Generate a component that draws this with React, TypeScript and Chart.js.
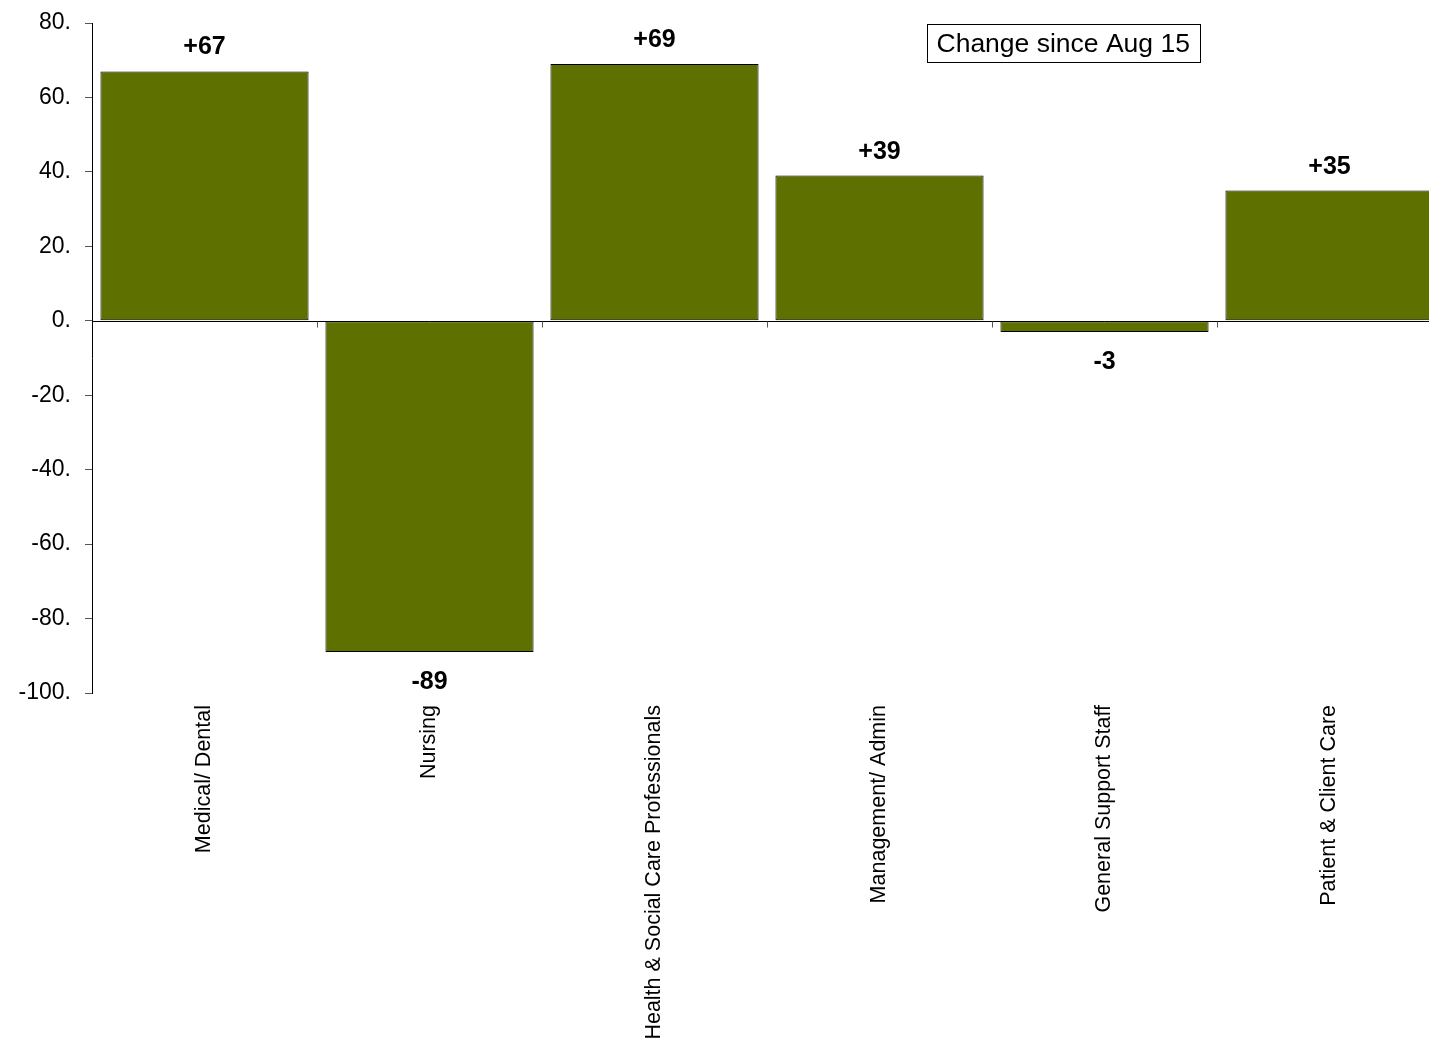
import React, { useEffect, useRef } from "react";
import { Chart, registerables } from "chart.js";

Chart.register(...registerables);

const categories = [
  "Medical/ Dental",
  "Nursing",
  "Health & Social Care Professionals",
  "Management/ Admin",
  "General Support Staff",
  "Patient & Client Care",
];
const changeValues = [67, -89, 69, 39, -3, 35];
const seriesLabel = "Change since Aug 15";
const yMin = -100;
const yMax = 80;
const yStep = 20;

const FONT = "'Liberation Sans', Arial, sans-serif";

const overlayPlugin = {
  id: "overlay",
  afterDatasetsDraw(chart: any) {
    const ctx = chart.ctx;
    const y = chart.scales.y;
    const area = chart.chartArea;
    const zeroY = Math.round(y.getPixelForValue(0)) + 0.5;
    ctx.save();
    ctx.strokeStyle = "#000";
    ctx.lineWidth = 1;
    ctx.beginPath();
    ctx.moveTo(area.left, zeroY);
    ctx.lineTo(area.right, zeroY);
    ctx.stroke();
    const n = categories.length;
    const w = (area.right - area.left) / n;
    ctx.strokeStyle = "#555";
    for (let i = 1; i < n; i++) {
      const px = Math.round(area.left + i * w) + 0.5;
      ctx.beginPath();
      ctx.moveTo(px, zeroY);
      ctx.lineTo(px, zeroY + 6);
      ctx.stroke();
    }
    const meta = chart.getDatasetMeta(0);
    ctx.fillStyle = "#000";
    ctx.font = `bold 25px ${FONT}`;
    ctx.textAlign = "center";
    ctx.textBaseline = "alphabetic";
    meta.data.forEach((bar: any, i: number) => {
      const v = changeValues[i];
      const txt = (v > 0 ? "+" : "") + v;
      const ty = v >= 0 ? bar.y - 17 : bar.y + 37;
      ctx.fillText(txt, bar.x, ty);
    });
    ctx.font = `26.5px ${FONT}`;
    const tw = ctx.measureText(seriesLabel).width;
    const bx = 927.5;
    const by = 24.5;
    const bw = Math.round(tw + 20);
    const bh = 38;
    ctx.fillStyle = "#fff";
    ctx.fillRect(bx, by, bw, bh);
    ctx.strokeStyle = "#000";
    ctx.strokeRect(bx, by, bw, bh);
    ctx.fillStyle = "#000";
    ctx.textAlign = "left";
    ctx.textBaseline = "middle";
    ctx.fillText(seriesLabel, bx + 9, by + bh / 2 + 1);
    ctx.restore();
  },
};

export default function App() {
  const ref = useRef<HTMLCanvasElement | null>(null);
  useEffect(() => {
    if (!ref.current) return;
    const chart = new Chart(ref.current, {
      type: "bar",
      data: {
        labels: categories,
        datasets: [
          {
            label: seriesLabel,
            data: changeValues,
            backgroundColor: "rgb(94,112,0)",
            borderColor: "#000",
            borderWidth: 1,
            borderSkipped: false,
            barPercentage: 0.925,
            categoryPercentage: 1,
          },
        ],
      },
      options: {
        animation: false,
        responsive: false,
        maintainAspectRatio: false,
        layout: { padding: { top: 23, left: 0, right: 0, bottom: 0 } },
        plugins: {
          legend: { display: false },
          tooltip: { enabled: false },
          title: { display: false },
        },
        scales: {
          x: {
            offset: true,
            grid: { display: false, drawTicks: false },
            border: { display: false },
            ticks: {
              autoSkip: false,
              minRotation: 90,
              maxRotation: 90,
              padding: 12,
              color: "#000",
              font: { family: FONT, size: 21.5 },
            },
            afterFit(scale: any) {
              scale.height = 353;
              scale.paddingLeft = 0;
              scale.paddingRight = 0;
            },
          },
          y: {
            min: yMin,
            max: yMax,
            border: { display: true, color: "#000", width: 1 },
            grid: {
              drawOnChartArea: false,
              drawTicks: true,
              tickLength: 7,
              color: "#555",
            },
            ticks: {
              stepSize: yStep,
              padding: 14,
              color: "#000",
              font: { family: FONT, size: 23 },
              callback: (v: any) => `${v}.`,
            },
            afterFit(scale: any) {
              scale.width = 92;
              scale.paddingTop = 0;
              scale.paddingBottom = 0;
            },
          },
        },
      },
      plugins: [overlayPlugin],
    });
    return () => chart.destroy();
  }, []);
  return (
    <div
      style={{
        position: "fixed",
        left: 0,
        top: 0,
        width: 1429,
        height: 1046,
        overflow: "hidden",
        background: "#fff",
      }}
    >
      <canvas ref={ref} width={1442} height={1046} style={{ display: "block" }} />
    </div>
  );
}
